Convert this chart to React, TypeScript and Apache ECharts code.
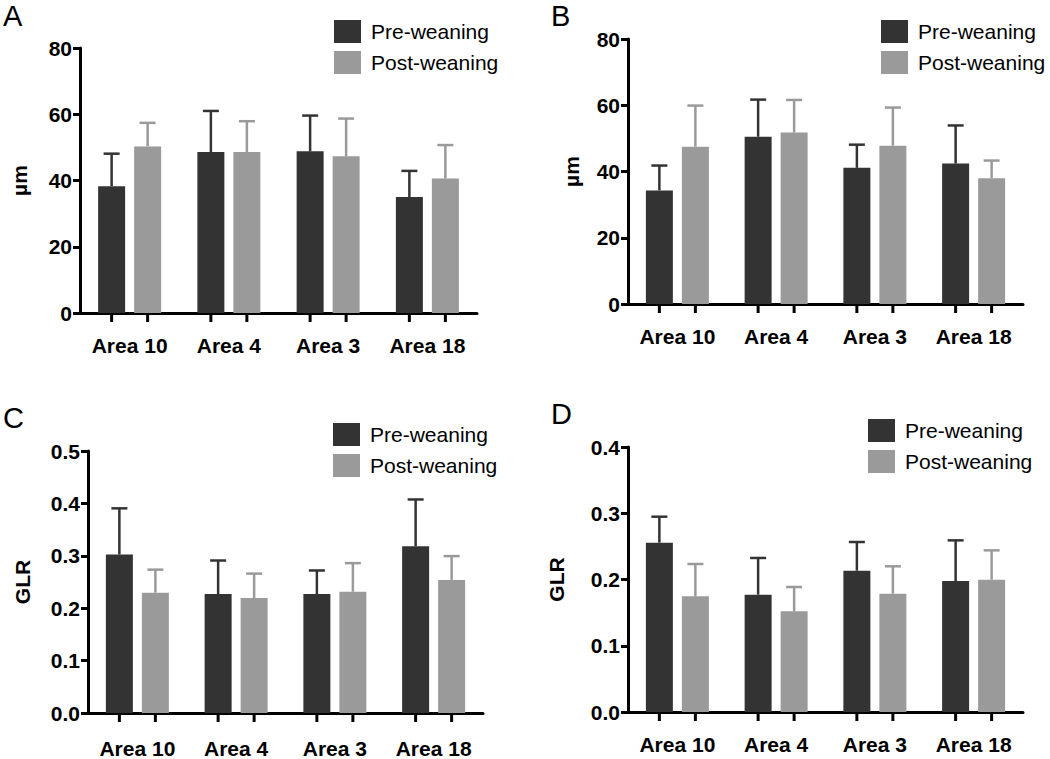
import React, { useEffect, useRef } from "react";
import * as echarts from "echarts";

const categories = ["Area 10", "Area 4", "Area 3", "Area 18"];
const seriesNames = ["Pre-weaning", "Post-weaning"];

// Panel A (µm)
const aPre = [38.3, 48.6, 48.8, 35.0];
const aPreErr = [48.1, 61.0, 59.6, 42.9];
const aPost = [50.3, 48.6, 47.3, 40.6];
const aPostErr = [57.4, 57.9, 58.7, 50.7];

// Panel B (µm)
const bPre = [34.3, 50.5, 41.1, 42.4];
const bPreErr = [41.8, 61.7, 48.1, 53.9];
const bPost = [47.5, 51.8, 47.8, 38.0];
const bPostErr = [59.9, 61.6, 59.3, 43.3];

// Panel C (GLR)
const cPre = [0.3025, 0.227, 0.227, 0.318];
const cPreErr = [0.3906, 0.291, 0.272, 0.4075];
const cPost = [0.2296, 0.2195, 0.2314, 0.254];
const cPostErr = [0.2736, 0.266, 0.286, 0.2994];

// Panel D (GLR)
const dPre = [0.2556, 0.1771, 0.2133, 0.1977];
const dPreErr = [0.2948, 0.2325, 0.2566, 0.2591];
const dPost = [0.1746, 0.152, 0.1786, 0.1997];
const dPostErr = [0.2234, 0.1887, 0.2199, 0.244];

const DARK = "#333333";
const LIGHT = "#9a9a9a";
const FONT = "Liberation Sans, Arial, Helvetica, sans-serif";
const BAR_W = 27;
const GAP = 9;
const OFF = (BAR_W + GAP) / 2;

type Panel = {
  letter: string;
  letterPos: [number, number];
  grid: { left: number; top: number; width: number; height: number };
  yName: string;
  nameGap: number;
  max: number;
  interval: number;
  decimals: number;
  labelMargin: number;
  legendPos: [number, number];
  pre: number[];
  preErr: number[];
  post: number[];
  postErr: number[];
};

const panels: Panel[] = [
  {
    letter: "A", letterPos: [3, 1],
    grid: { left: 80, top: 48, width: 397, height: 265 },
    yName: "µm", nameGap: 50, max: 80, interval: 20, decimals: 0, labelMargin: 22,
    legendPos: [334, 20],
    pre: aPre, preErr: aPreErr, post: aPost, postErr: aPostErr,
  },
  {
    letter: "B", letterPos: [551, 1],
    grid: { left: 628, top: 39, width: 395, height: 265 },
    yName: "µm", nameGap: 46, max: 80, interval: 20, decimals: 0, labelMargin: 22,
    legendPos: [881, 20],
    pre: bPre, preErr: bPreErr, post: bPost, postErr: bPostErr,
  },
  {
    letter: "C", letterPos: [3, 403],
    grid: { left: 88, top: 451, width: 395, height: 265 },
    yName: "GLR", nameGap: 55, max: 0.5, interval: 0.1, decimals: 1, labelMargin: 25,
    legendPos: [333, 423],
    pre: cPre, preErr: cPreErr, post: cPost, postErr: cPostErr,
  },
  {
    letter: "D", letterPos: [551, 399],
    grid: { left: 628, top: 447, width: 395, height: 265 },
    yName: "GLR", nameGap: 61, max: 0.4, interval: 0.1, decimals: 1, labelMargin: 22,
    legendPos: [868, 419],
    pre: dPre, preErr: dPreErr, post: dPost, postErr: dPostErr,
  },
];

function errSeries(idx: number, vals: number[], errs: number[], color: string, offset: number) {
  return {
    type: "custom",
    xAxisIndex: idx,
    yAxisIndex: idx,
    z: 5,
    silent: true,
    encode: { x: 0, y: [1, 2] },
    data: vals.map((v, i) => [i, v, errs[i]]),
    renderItem: (_params: any, api: any) => {
      const i = api.value(0);
      const p0 = api.coord([i, api.value(1)]);
      const p1 = api.coord([i, api.value(2)]);
      const base = api.coord([i, 0]);
      const x = p0[0] + offset;
      return {
        type: "group",
        children: [
          {
            type: "line",
            shape: { x1: x, y1: p0[1], x2: x, y2: p1[1] },
            style: { stroke: color, lineWidth: 2.5 },
          },
          {
            type: "line",
            shape: { x1: x - 8, y1: p1[1], x2: x + 8, y2: p1[1] },
            style: { stroke: color, lineWidth: 2.5 },
          },
          {
            type: "line",
            shape: { x1: x, y1: base[1], x2: x, y2: base[1] + 9 },
            style: { stroke: "#000", lineWidth: 3 },
          },
        ],
      };
    },
  };
}

export default function App() {
  const ref = useRef<HTMLDivElement>(null);
  useEffect(() => {
    if (!ref.current) return;
    const chart = echarts.init(ref.current, undefined, { renderer: "svg" });
    const grid: any[] = [];
    const xAxis: any[] = [];
    const yAxis: any[] = [];
    const series: any[] = [];
    const legend: any[] = [];
    const graphic: any[] = [];
    panels.forEach((p, idx) => {
      grid.push({ ...p.grid, containLabel: false });
      xAxis.push({
        type: "category",
        gridIndex: idx,
        data: categories,
        axisLine: { lineStyle: { color: "#000", width: 3 } },
        axisTick: { show: false },
        axisLabel: {
          color: "#000",
          fontSize: 21,
          fontWeight: "bold",
          fontFamily: FONT,
          margin: p.labelMargin,
          interval: 0,
        },
        splitLine: { show: false },
      });
      yAxis.push({
        type: "value",
        gridIndex: idx,
        min: 0,
        max: p.max,
        interval: p.interval,
        name: p.yName,
        nameLocation: "middle",
        nameRotate: 90,
        nameGap: p.nameGap,
        nameTextStyle: { color: "#000", fontSize: 21, fontWeight: "bold", fontFamily: FONT },
        axisLine: { show: true, lineStyle: { color: "#000", width: 3 } },
        axisTick: { show: true, length: 7, inside: false, lineStyle: { color: "#000", width: 3 } },
        axisLabel: {
          color: "#000",
          fontSize: 21,
          fontWeight: "bold",
          fontFamily: FONT,
          margin: 8,
          formatter: (v: number) => v.toFixed(p.decimals),
        },
        splitLine: { show: false },
      });
      series.push({
        type: "bar",
        name: seriesNames[0],
        xAxisIndex: idx,
        yAxisIndex: idx,
        data: p.pre,
        barWidth: BAR_W,
        barGap: `${(GAP / BAR_W) * 100}%`,
        itemStyle: { color: DARK },
        z: 3,
      });
      series.push({
        type: "bar",
        name: seriesNames[1],
        xAxisIndex: idx,
        yAxisIndex: idx,
        data: p.post,
        barWidth: BAR_W,
        barGap: `${(GAP / BAR_W) * 100}%`,
        itemStyle: { color: LIGHT },
        z: 3,
      });
      series.push(errSeries(idx, p.pre, p.preErr, DARK, -OFF));
      series.push(errSeries(idx, p.post, p.postErr, LIGHT, OFF));
      legend.push({
        data: seriesNames,
        orient: "vertical",
        left: p.legendPos[0],
        top: p.legendPos[1],
        padding: 0,
        itemWidth: 27,
        itemHeight: 23,
        itemGap: 8,
        icon: "rect",
        selectedMode: false,
        textStyle: {
          color: "#000",
          fontSize: 21,
          fontFamily: FONT,
          padding: [0, 0, 0, 5],
        },
      });
      graphic.push({
        type: "text",
        left: p.letterPos[0],
        top: p.letterPos[1],
        style: { text: p.letter, fontSize: 29, fontFamily: FONT, fill: "#000" },
      });
    });
    chart.setOption({
      animation: false,
      backgroundColor: "#fff",
      grid,
      xAxis,
      yAxis,
      series,
      legend,
      graphic,
    });
    return () => chart.dispose();
  }, []);
  return (
    <div
      ref={ref}
      style={{ position: "absolute", left: 0, top: 0, width: 1050, height: 759, background: "#fff" }}
    />
  );
}
